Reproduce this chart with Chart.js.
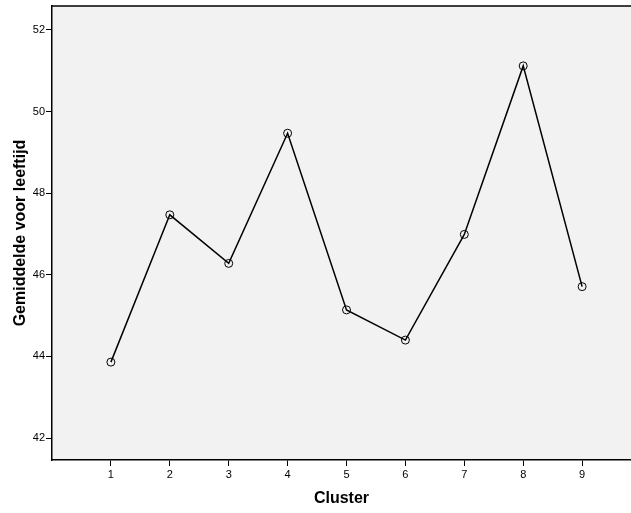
<!DOCTYPE html>
<html>
<head>
<meta charset="utf-8">
<script src="https://cdn.jsdelivr.net/npm/chart.js@4/dist/chart.umd.min.js"></script>
<style>
  html, body { margin: 0; padding: 0; background: #ffffff; }
  canvas { display: block; }
</style>
</head>
<body>
<canvas id="c" width="631" height="513"></canvas>
<script>
const clusters = [1, 2, 3, 4, 5, 6, 7, 8, 9];
const meanAge = [43.86, 47.47, 46.28, 49.47, 45.14, 44.40, 46.99, 51.12, 45.71];
const yTickValues = [42, 44, 46, 48, 50, 52];
const xTitle = 'Cluster';
const yTitle = 'Gemiddelde voor leeftijd';

const FONT = "'Liberation Sans', Arial, sans-serif";

const plotFrame = {
  id: 'plotFrame',
  beforeDraw(chart) {
    const {ctx, chartArea: a} = chart;
    ctx.save();
    ctx.fillStyle = '#f2f2f2';
    ctx.fillRect(a.left, a.top, a.right - a.left, a.bottom - a.top);
    ctx.restore();
  },
  afterDraw(chart) {
    const {ctx, chartArea: a} = chart;
    ctx.save();
    ctx.strokeStyle = '#000';
    ctx.lineWidth = 1.5;
    ctx.beginPath();
    ctx.moveTo(a.left, a.top);
    ctx.lineTo(a.right, a.top);
    ctx.stroke();
    ctx.restore();
  }
};

new Chart(document.getElementById('c'), {
  type: 'line',
  data: {
    datasets: [{
      data: clusters.map((c, i) => ({x: c, y: meanAge[i]})),
      borderColor: '#000',
      borderWidth: 1.5,
      pointRadius: 4,
      pointBorderWidth: 1,
      pointBorderColor: '#000',
      pointBackgroundColor: 'rgba(0,0,0,0)',
      tension: 0,
      fill: false
    }]
  },
  options: {
    responsive: false,
    animation: false,
    devicePixelRatio: 1,
    layout: { autoPadding: false, padding: { top: 6, right: 0, left: 0, bottom: 0 } },
    plugins: { legend: { display: false }, tooltip: { enabled: false } },
    scales: {
      x: {
        type: 'linear',
        min: 0,
        max: 9.83,
        afterBuildTicks(scale) { scale.ticks = clusters.map(v => ({value: v})); },
        afterFit(scale) { scale.height = 53; scale.paddingLeft = 0; scale.paddingRight = 0; },
        grid: { drawOnChartArea: false, drawTicks: true, tickLength: 6, color: '#000', tickWidth: 1 },
        border: { display: true, color: '#000', width: 1.5 },
        ticks: { color: '#000', font: { family: FONT, size: 11 }, padding: 2, maxRotation: 0, autoSkip: false },
        title: { display: true, text: xTitle, color: '#000', font: { family: FONT, size: 16, weight: 'bold' }, padding: { top: 0, bottom: 5 } }
      },
      y: {
        min: 41.461,
        max: 52.588,
        afterBuildTicks(scale) { scale.ticks = yTickValues.map(v => ({value: v})); },
        afterFit(scale) { scale.width = 52; scale.paddingTop = 0; scale.paddingBottom = 0; },
        grid: { drawOnChartArea: false, drawTicks: true, tickLength: 6, color: '#000', tickWidth: 1 },
        border: { display: true, color: '#000', width: 1.5 },
        ticks: { color: '#000', font: { family: FONT, size: 11 }, padding: 1 },
        title: { display: true, text: yTitle, color: '#000', font: { family: FONT, size: 16, weight: 'bold' }, padding: { top: 11, bottom: 0 } }
      }
    }
  },
  plugins: [plotFrame]
});
</script>
</body>
</html>
